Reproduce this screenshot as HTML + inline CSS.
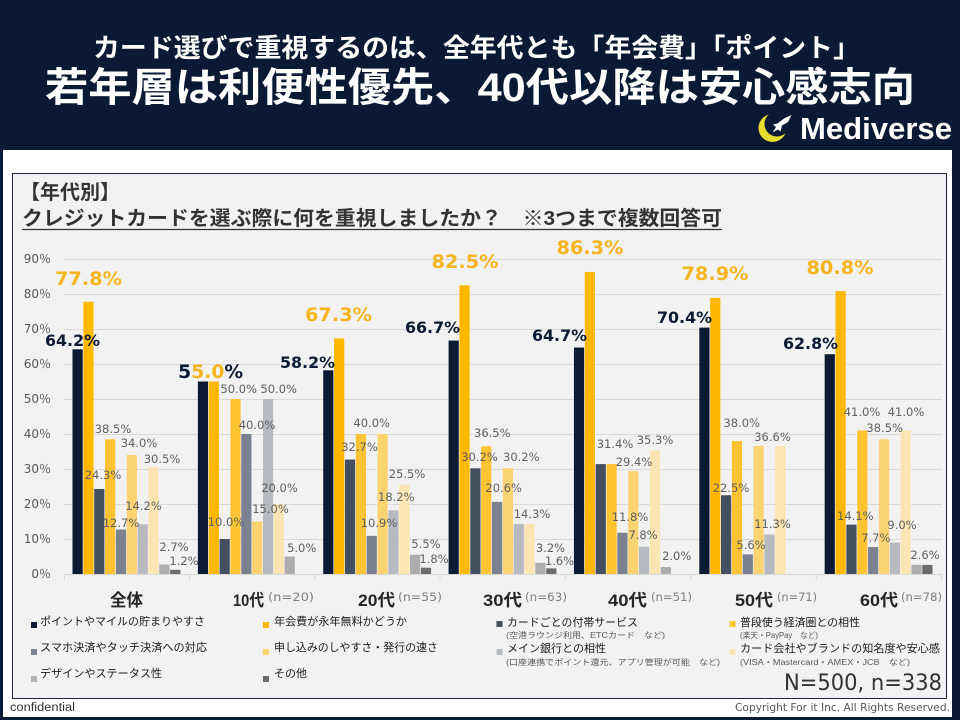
<!DOCTYPE html>
<html><head><meta charset="utf-8"><style>
html,body{margin:0;padding:0;background:#0b1a34;}
svg{display:block}
.jp{font-family:"Liberation Sans","Noto Sans CJK JP",sans-serif;}
.num{font-family:"DejaVu Sans","Liberation Sans",sans-serif;}
.ax{font-family:"DejaVu Sans","Noto Sans CJK JP",sans-serif;}
</style></head><body>
<svg width="960" height="720" viewBox="0 0 960 720" xmlns="http://www.w3.org/2000/svg">
<defs>
<mask id="cm"><rect x="750" y="100" width="60" height="50" fill="#fff"/><circle cx="777" cy="124" r="12.5" fill="#000"/></mask>
</defs>
<rect x="0" y="0" width="960" height="720" fill="#0b1a34"/>
<!-- header -->
<text class="jp" x="93" y="57" font-size="26" font-weight="bold" fill="#fff" textLength="767" lengthAdjust="spacingAndGlyphs">カード選びで重視するのは、全年代とも「年会費」「ポイント」</text>
<text class="jp" x="45" y="101" font-size="40" font-weight="bold" fill="#fff" textLength="870" lengthAdjust="spacingAndGlyphs">若年層は利便性優先、40代以降は安心感志向</text>
<circle cx="772.5" cy="128" r="14" fill="#e8dc2c" mask="url(#cm)"/>
<polygon points="791.5,115 784,118.5 777.5,123.5 773,124.5 776,127 772.5,132.5 778,129.5 780.5,131.5 782,125.5 788,122" fill="#fff"/>
<text x="800" y="139" font-family="Liberation Sans, sans-serif" font-size="31" font-weight="bold" fill="#fff" textLength="152" lengthAdjust="spacingAndGlyphs">Mediverse</text>
<!-- white page -->
<rect x="3" y="150" width="949" height="567" fill="#fff"/>
<rect x="12.5" y="173.5" width="934" height="525" fill="#f2f2f2" stroke="#1a2540" stroke-width="1"/>
<text class="jp" x="20" y="199" font-size="20" font-weight="bold" fill="#333">【年代別】</text>
<text class="jp" x="22" y="225" font-size="20" font-weight="bold" fill="#333" textLength="700" lengthAdjust="spacingAndGlyphs">クレジットカードを選ぶ際に何を重視しましたか？　※3つまで複数回答可</text>
<line x1="22" y1="229.5" x2="722" y2="229.5" stroke="#333" stroke-width="1.3"/>

<!-- grid -->
<g stroke="#d9d9d9" stroke-width="1">
<line x1="64" y1="259.5" x2="942" y2="259.5"/>
<line x1="64" y1="294.5" x2="942" y2="294.5"/>
<line x1="64" y1="329.5" x2="942" y2="329.5"/>
<line x1="64" y1="364.5" x2="942" y2="364.5"/>
<line x1="64" y1="399.5" x2="942" y2="399.5"/>
<line x1="64" y1="434.5" x2="942" y2="434.5"/>
<line x1="64" y1="469.5" x2="942" y2="469.5"/>
<line x1="64" y1="504.5" x2="942" y2="504.5"/>
<line x1="64" y1="539.5" x2="942" y2="539.5"/>
<line x1="64" y1="574.5" x2="942" y2="574.5"/>
<line x1="64.5" y1="574" x2="64.5" y2="580"/>
<line x1="189.5" y1="574" x2="189.5" y2="580"/>
<line x1="314.7" y1="574" x2="314.7" y2="580"/>
<line x1="440" y1="574" x2="440" y2="580"/>
<line x1="565.4" y1="574" x2="565.4" y2="580"/>
<line x1="690.8" y1="574" x2="690.8" y2="580"/>
<line x1="816.2" y1="574" x2="816.2" y2="580"/>
<line x1="941.5" y1="574" x2="941.5" y2="580"/>
</g>
<g class="ax" font-size="12" fill="#595959" text-anchor="end">
<text x="51" y="263">90％</text>
<text x="51" y="298">80％</text>
<text x="51" y="333">70％</text>
<text x="51" y="368">60％</text>
<text x="51" y="403">50％</text>
<text x="51" y="438">40％</text>
<text x="51" y="473">30％</text>
<text x="51" y="508">20％</text>
<text x="51" y="543">10％</text>
<text x="51" y="578">0％</text>
</g>

<!-- bars: width 10.2, pitch 10.85 -->
<g transform="translate(72.5,0)">
<rect x="0" y="349.3" width="10.2" height="224.7" fill="#0c1a33"/>
<rect x="10.85" y="301.7" width="10.2" height="272.3" fill="#ffb800"/>
<rect x="21.7" y="488.95" width="10.2" height="85.05" fill="#44505f"/>
<rect x="32.55" y="439.25" width="10.2" height="134.75" fill="#fcc333"/>
<rect x="43.4" y="529.55" width="10.2" height="44.45" fill="#7b8190"/>
<rect x="54.25" y="455" width="10.2" height="119" fill="#fcd46f"/>
<rect x="65.1" y="524.3" width="10.2" height="49.7" fill="#b7bac1"/>
<rect x="75.95" y="467.25" width="10.2" height="106.75" fill="#fbe5b2"/>
<rect x="86.8" y="564.55" width="10.2" height="9.45" fill="#adadad"/>
<rect x="97.65" y="569.8" width="10.2" height="4.2" fill="#6b6b6b"/>
</g>
<g transform="translate(197.86,0)">
<rect x="0" y="381.5" width="10.2" height="192.5" fill="#0c1a33"/>
<rect x="10.85" y="381.5" width="10.2" height="192.5" fill="#ffb800"/>
<rect x="21.7" y="539" width="10.2" height="35" fill="#44505f"/>
<rect x="32.55" y="399" width="10.2" height="175" fill="#fcc333"/>
<rect x="43.4" y="434" width="10.2" height="140" fill="#7b8190"/>
<rect x="54.25" y="521.5" width="10.2" height="52.5" fill="#fcd46f"/>
<rect x="65.1" y="399" width="10.2" height="175" fill="#b7bac1"/>
<rect x="75.95" y="504" width="10.2" height="70" fill="#fbe5b2"/>
<rect x="86.8" y="556.5" width="10.2" height="17.5" fill="#adadad"/>
</g>
<g transform="translate(323.22,0)">
<rect x="0" y="370.3" width="10.2" height="203.7" fill="#0c1a33"/>
<rect x="10.85" y="338.45" width="10.2" height="235.55" fill="#ffb800"/>
<rect x="21.7" y="459.55" width="10.2" height="114.45" fill="#44505f"/>
<rect x="32.55" y="434" width="10.2" height="140" fill="#fcc333"/>
<rect x="43.4" y="535.85" width="10.2" height="38.15" fill="#7b8190"/>
<rect x="54.25" y="434" width="10.2" height="140" fill="#fcd46f"/>
<rect x="65.1" y="510.3" width="10.2" height="63.7" fill="#b7bac1"/>
<rect x="75.95" y="484.75" width="10.2" height="89.25" fill="#fbe5b2"/>
<rect x="86.8" y="554.75" width="10.2" height="19.25" fill="#adadad"/>
<rect x="97.65" y="567.7" width="10.2" height="6.3" fill="#6b6b6b"/>
</g>
<g transform="translate(448.58,0)">
<rect x="0" y="340.55" width="10.2" height="233.45" fill="#0c1a33"/>
<rect x="10.85" y="285.25" width="10.2" height="288.75" fill="#ffb800"/>
<rect x="21.7" y="468.3" width="10.2" height="105.7" fill="#44505f"/>
<rect x="32.55" y="446.25" width="10.2" height="127.75" fill="#fcc333"/>
<rect x="43.4" y="501.9" width="10.2" height="72.1" fill="#7b8190"/>
<rect x="54.25" y="468.3" width="10.2" height="105.7" fill="#fcd46f"/>
<rect x="65.1" y="523.95" width="10.2" height="50.05" fill="#b7bac1"/>
<rect x="75.95" y="523.95" width="10.2" height="50.05" fill="#fbe5b2"/>
<rect x="86.8" y="562.8" width="10.2" height="11.2" fill="#adadad"/>
<rect x="97.65" y="568.4" width="10.2" height="5.6" fill="#6b6b6b"/>
</g>
<g transform="translate(573.94,0)">
<rect x="0" y="347.55" width="10.2" height="226.45" fill="#0c1a33"/>
<rect x="10.85" y="271.95" width="10.2" height="302.05" fill="#ffb800"/>
<rect x="21.7" y="464.1" width="10.2" height="109.9" fill="#44505f"/>
<rect x="32.55" y="464.1" width="10.2" height="109.9" fill="#fcc333"/>
<rect x="43.4" y="532.7" width="10.2" height="41.3" fill="#7b8190"/>
<rect x="54.25" y="471.1" width="10.2" height="102.9" fill="#fcd46f"/>
<rect x="65.1" y="546.7" width="10.2" height="27.3" fill="#b7bac1"/>
<rect x="75.95" y="450.45" width="10.2" height="123.55" fill="#fbe5b2"/>
<rect x="86.8" y="567" width="10.2" height="7" fill="#adadad"/>
</g>
<g transform="translate(699.3,0)">
<rect x="0" y="327.6" width="10.2" height="246.4" fill="#0c1a33"/>
<rect x="10.85" y="297.85" width="10.2" height="276.15" fill="#ffb800"/>
<rect x="21.7" y="495.25" width="10.2" height="78.75" fill="#44505f"/>
<rect x="32.55" y="441" width="10.2" height="133" fill="#fcc333"/>
<rect x="43.4" y="554.4" width="10.2" height="19.6" fill="#7b8190"/>
<rect x="54.25" y="445.9" width="10.2" height="128.1" fill="#fcd46f"/>
<rect x="65.1" y="534.45" width="10.2" height="39.55" fill="#b7bac1"/>
<rect x="75.95" y="445.9" width="10.2" height="128.1" fill="#fbe5b2"/>
</g>
<g transform="translate(824.66,0)">
<rect x="0" y="354.2" width="10.2" height="219.8" fill="#0c1a33"/>
<rect x="10.85" y="291.2" width="10.2" height="282.8" fill="#ffb800"/>
<rect x="21.7" y="524.65" width="10.2" height="49.35" fill="#44505f"/>
<rect x="32.55" y="430.5" width="10.2" height="143.5" fill="#fcc333"/>
<rect x="43.4" y="547.05" width="10.2" height="26.95" fill="#7b8190"/>
<rect x="54.25" y="439.25" width="10.2" height="134.75" fill="#fcd46f"/>
<rect x="65.1" y="542.5" width="10.2" height="31.5" fill="#b7bac1"/>
<rect x="75.95" y="430.5" width="10.2" height="143.5" fill="#fbe5b2"/>
<rect x="86.8" y="564.9" width="10.2" height="9.1" fill="#adadad"/>
<rect x="97.65" y="564.9" width="10.2" height="9.1" fill="#6b6b6b"/>
</g>

<!-- small labels -->
<g class="num" font-size="11.5" fill="#606060" text-anchor="middle">
<text x="113" y="433">38.5%</text><text x="103" y="479">24.3%</text><text x="139" y="447">34.0%</text><text x="162" y="463">30.5%</text><text x="121" y="527">12.7%</text><text x="143.5" y="510">14.2%</text><text x="174" y="551">2.7%</text><text x="184" y="565">1.2%</text>
<text x="238.7" y="393">50.0%</text><text x="278.7" y="393">50.0%</text><text x="257" y="429">40.0%</text><text x="279.5" y="492">20.0%</text><text x="270.5" y="513">15.0%</text><text x="226" y="526">10.0%</text><text x="301.7" y="552">5.0%</text>
<text x="371.7" y="427">40.0%</text><text x="359.5" y="451">32.7%</text><text x="407" y="478">25.5%</text><text x="396.3" y="501">18.2%</text><text x="379" y="527">10.9%</text><text x="426" y="548">5.5%</text><text x="434" y="563">1.8%</text>
<text x="492.3" y="437">36.5%</text><text x="479.5" y="461">30.2%</text><text x="521.3" y="461">30.2%</text><text x="503.7" y="492">20.6%</text><text x="532" y="518">14.3%</text><text x="550.5" y="552">3.2%</text><text x="559.5" y="565">1.6%</text>
<text x="615" y="448">31.4%</text><text x="655" y="444">35.3%</text><text x="634" y="466">29.4%</text><text x="630" y="521">11.8%</text><text x="643" y="539">7.8%</text><text x="676.7" y="560">2.0%</text>
<text x="741.7" y="427">38.0%</text><text x="772.5" y="441">36.6%</text><text x="731" y="492">22.5%</text><text x="772.5" y="528">11.3%</text><text x="751" y="549">5.6%</text>
<text x="862" y="416">41.0%</text><text x="906" y="416">41.0%</text><text x="884.7" y="432">38.5%</text><text x="855.3" y="520">14.1%</text><text x="875.8" y="542">7.7%</text><text x="902" y="529">9.0%</text><text x="925" y="559">2.6%</text>
</g>

<!-- big labels -->
<g class="num" font-weight="bold" text-anchor="middle">
<text x="72.5" y="346" font-size="16" fill="#0c1a33" textLength="55" lengthAdjust="spacingAndGlyphs">64.2%</text>
<text x="88.5" y="285" font-size="19" fill="#f6b51e" textLength="67" lengthAdjust="spacingAndGlyphs">77.8%</text>
<text x="210.7" y="378" font-size="18.5" fill="#0c1a33" textLength="65" lengthAdjust="spacingAndGlyphs">5<tspan fill="#f6b51e">5.0</tspan>%</text>
<text x="307.5" y="368" font-size="16" fill="#0c1a33" textLength="55" lengthAdjust="spacingAndGlyphs">58.2%</text>
<text x="338.5" y="321" font-size="19" fill="#f6b51e" textLength="67" lengthAdjust="spacingAndGlyphs">67.3%</text>
<text x="432.5" y="333" font-size="16" fill="#0c1a33" textLength="55" lengthAdjust="spacingAndGlyphs">66.7%</text>
<text x="465" y="268" font-size="19" fill="#f6b51e" textLength="67" lengthAdjust="spacingAndGlyphs">82.5%</text>
<text x="559.5" y="341" font-size="16" fill="#0c1a33" textLength="55" lengthAdjust="spacingAndGlyphs">64.7%</text>
<text x="590" y="254" font-size="19" fill="#f6b51e" textLength="67" lengthAdjust="spacingAndGlyphs">86.3%</text>
<text x="684.5" y="323" font-size="16" fill="#0c1a33" textLength="55" lengthAdjust="spacingAndGlyphs">70.4%</text>
<text x="715" y="280" font-size="19" fill="#f6b51e" textLength="67" lengthAdjust="spacingAndGlyphs">78.9%</text>
<text x="810.5" y="349" font-size="16" fill="#0c1a33" textLength="55" lengthAdjust="spacingAndGlyphs">62.8%</text>
<text x="840" y="274" font-size="19" fill="#f6b51e" textLength="67" lengthAdjust="spacingAndGlyphs">80.8%</text>
</g>

<!-- category labels -->
<g class="jp" font-size="17" font-weight="bold" fill="#262626">
<text x="110" y="606" textLength="33" lengthAdjust="spacingAndGlyphs">全体</text>
<text x="233" y="606" textLength="31" lengthAdjust="spacingAndGlyphs">10代</text>
<text x="358" y="606" textLength="37" lengthAdjust="spacingAndGlyphs">20代</text>
<text x="483" y="606" textLength="39" lengthAdjust="spacingAndGlyphs">30代</text>
<text x="608" y="606" textLength="39" lengthAdjust="spacingAndGlyphs">40代</text>
<text x="735" y="606" textLength="38" lengthAdjust="spacingAndGlyphs">50代</text>
<text x="860" y="606" textLength="38" lengthAdjust="spacingAndGlyphs">60代</text>
</g>
<g class="num" font-size="11.5" fill="#7f7f7f">
<text x="268" y="601" textLength="46" lengthAdjust="spacingAndGlyphs">(n=20)</text>
<text x="398" y="601" textLength="44" lengthAdjust="spacingAndGlyphs">(n=55)</text>
<text x="525" y="601" textLength="42" lengthAdjust="spacingAndGlyphs">(n=63)</text>
<text x="651" y="601" textLength="41" lengthAdjust="spacingAndGlyphs">(n=51)</text>
<text x="777" y="601" textLength="40" lengthAdjust="spacingAndGlyphs">(n=71)</text>
<text x="901" y="601" textLength="41" lengthAdjust="spacingAndGlyphs">(n=78)</text>
</g>

<!-- legend -->
<rect x="31" y="622" width="6" height="6" fill="#0c1a33"/>
<rect x="31" y="649" width="6" height="6" fill="#7b8190"/>
<rect x="31" y="676" width="6" height="6" fill="#b5b5b5"/>
<rect x="263" y="622" width="6" height="6" fill="#ffb800"/>
<rect x="263" y="649" width="6" height="6" fill="#fcd46f"/>
<rect x="263" y="676" width="6" height="6" fill="#6b6b6b"/>
<rect x="496.5" y="621" width="6" height="6" fill="#44505f"/>
<rect x="496.5" y="649" width="6" height="6" fill="#b7bac1"/>
<rect x="729.5" y="621" width="6" height="6" fill="#fcc333"/>
<rect x="729.5" y="649" width="6" height="6" fill="#fbe5b2"/>
<g class="jp" font-size="11" fill="#1a1a1a">
<text x="40" y="625" textLength="165" lengthAdjust="spacingAndGlyphs">ポイントやマイルの貯まりやすさ</text>
<text x="40" y="651" textLength="167" lengthAdjust="spacingAndGlyphs">スマホ決済やタッチ決済への対応</text>
<text x="40" y="677" textLength="122" lengthAdjust="spacingAndGlyphs">デザインやステータス性</text>
<text x="274" y="625" textLength="133" lengthAdjust="spacingAndGlyphs">年会費が永年無料かどうか</text>
<text x="274" y="651" textLength="164" lengthAdjust="spacingAndGlyphs">申し込みのしやすさ・発行の速さ</text>
<text x="274" y="677" textLength="33" lengthAdjust="spacingAndGlyphs">その他</text>
<text x="507" y="626" textLength="131" lengthAdjust="spacingAndGlyphs">カードごとの付帯サービス</text>
<text x="507" y="652" textLength="99" lengthAdjust="spacingAndGlyphs">メイン銀行との相性</text>
<text x="740" y="626" textLength="120" lengthAdjust="spacingAndGlyphs">普段使う経済圏との相性</text>
<text x="740" y="652" textLength="200" lengthAdjust="spacingAndGlyphs">カード会社やブランドの知名度や安心感</text>
</g>
<g class="jp" font-size="8" fill="#595959">
<text x="506" y="638" textLength="159" lengthAdjust="spacingAndGlyphs">(空港ラウンジ利用、ETCカード　など)</text>
<text x="506" y="665" textLength="214" lengthAdjust="spacingAndGlyphs">(口座連携でポイント還元、アプリ管理が可能　など)</text>
<text x="740" y="638" textLength="78" lengthAdjust="spacingAndGlyphs">(楽天・PayPay　など)</text>
<text x="740" y="665" textLength="170" lengthAdjust="spacingAndGlyphs">(VISA・Mastercard・AMEX・JCB　など)</text>
</g>
<text class="num" x="784" y="690" font-size="22" fill="#333" textLength="158" lengthAdjust="spacingAndGlyphs">N=500, n=338</text>

<!-- footer -->
<text x="10" y="711" font-family="Liberation Sans, sans-serif" font-size="11.5" fill="#333" textLength="65" lengthAdjust="spacingAndGlyphs">confidential</text>
<text class="num" x="735" y="711" font-size="11" fill="#595959" textLength="215" lengthAdjust="spacingAndGlyphs">Copyright For it Inc. All Rights Reserved.</text>
</svg>
</body></html>
